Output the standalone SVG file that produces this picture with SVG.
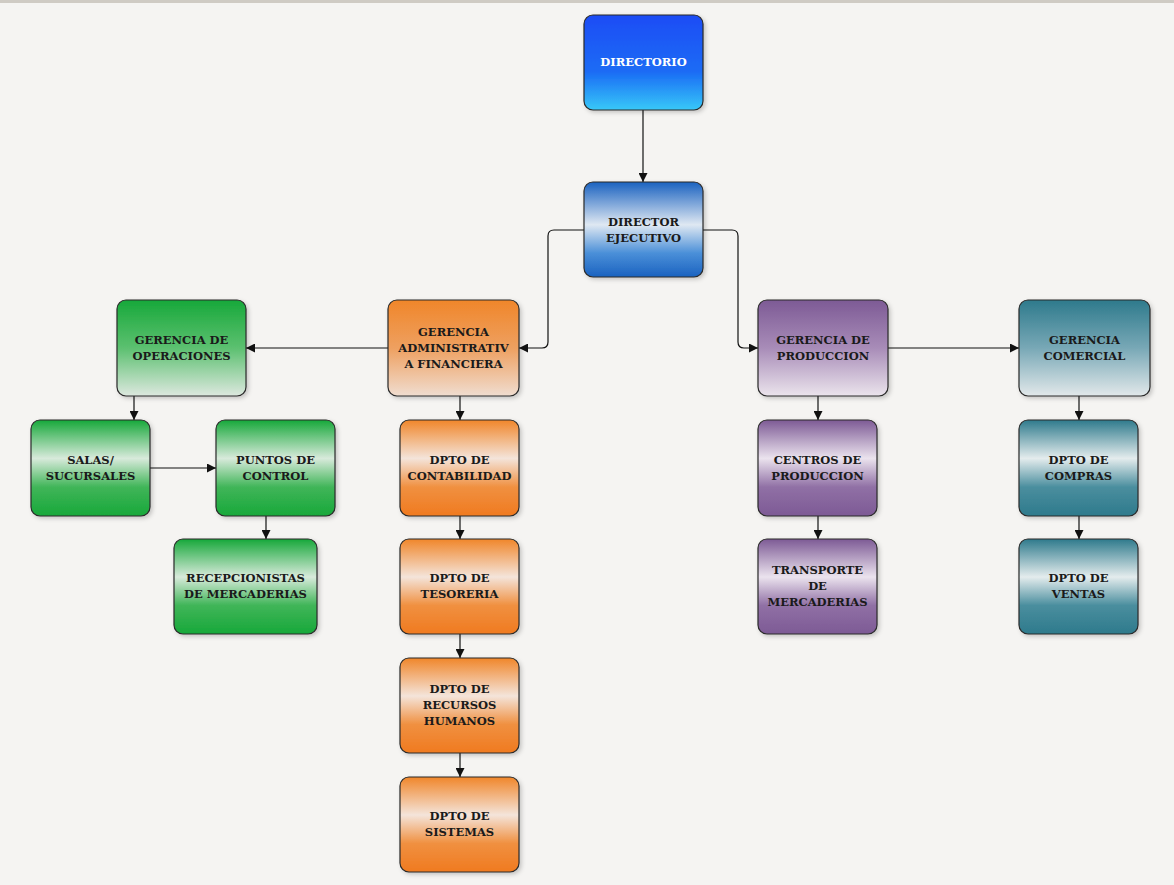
<svg xmlns="http://www.w3.org/2000/svg" width="1174" height="885" viewBox="0 0 1174 885">
<defs>
<linearGradient id="gBlue1" x1="0" y1="0" x2="0" y2="1"><stop offset="0" stop-color="#1a4cf5"/><stop offset="0.6" stop-color="#1a6cf5"/><stop offset="1" stop-color="#38c8f8"/></linearGradient>
<linearGradient id="gBlue2" x1="0" y1="0" x2="0" y2="1"><stop offset="0" stop-color="#1a62c0"/><stop offset="0.45" stop-color="#dfe8f2"/><stop offset="0.75" stop-color="#4a8fd8"/><stop offset="1" stop-color="#1a62c0"/></linearGradient>
<linearGradient id="gOrM" x1="0" y1="0" x2="0" y2="1"><stop offset="0" stop-color="#f0862a"/><stop offset="0.5" stop-color="#eea060"/><stop offset="1" stop-color="#f0ddd0"/></linearGradient>
<linearGradient id="gOrD" x1="0" y1="0" x2="0" y2="1"><stop offset="0" stop-color="#f0862a"/><stop offset="0.4" stop-color="#f4e4da"/><stop offset="0.7" stop-color="#f09040"/><stop offset="1" stop-color="#f07a20"/></linearGradient>
<linearGradient id="gGrM" x1="0" y1="0" x2="0" y2="1"><stop offset="0" stop-color="#17a83a"/><stop offset="0.5" stop-color="#5cc070"/><stop offset="1" stop-color="#dde8df"/></linearGradient>
<linearGradient id="gGrD" x1="0" y1="0" x2="0" y2="1"><stop offset="0" stop-color="#17a83a"/><stop offset="0.4" stop-color="#d8eadb"/><stop offset="0.7" stop-color="#40b558"/><stop offset="1" stop-color="#17a83a"/></linearGradient>
<linearGradient id="gPuM" x1="0" y1="0" x2="0" y2="1"><stop offset="0" stop-color="#7d5a95"/><stop offset="0.5" stop-color="#a88cb8"/><stop offset="1" stop-color="#ebe4ec"/></linearGradient>
<linearGradient id="gPuD" x1="0" y1="0" x2="0" y2="1"><stop offset="0" stop-color="#7d5a95"/><stop offset="0.4" stop-color="#ebe3ee"/><stop offset="0.7" stop-color="#9070a5"/><stop offset="1" stop-color="#7d5a95"/></linearGradient>
<linearGradient id="gTeM" x1="0" y1="0" x2="0" y2="1"><stop offset="0" stop-color="#2e7a8c"/><stop offset="0.5" stop-color="#78a8b6"/><stop offset="1" stop-color="#e2e8ea"/></linearGradient>
<linearGradient id="gTeD" x1="0" y1="0" x2="0" y2="1"><stop offset="0" stop-color="#2e7a8c"/><stop offset="0.4" stop-color="#e4eced"/><stop offset="0.7" stop-color="#4a8e9e"/><stop offset="1" stop-color="#2e7a8c"/></linearGradient>
<marker id="ah" viewBox="0 0 10 10" refX="10" refY="5" markerWidth="9" markerHeight="9" markerUnits="userSpaceOnUse" orient="auto"><path d="M0,0 L10,5 L0,10 z" fill="#111"/></marker>
<filter id="sh" x="-10%" y="-10%" width="130%" height="130%"><feDropShadow dx="2" dy="2" stdDeviation="2" flood-color="#000" flood-opacity="0.2"/></filter>
</defs>
<style>
rect.n{stroke:#2a2a2a;stroke-width:1.2;filter:url(#sh)}
text{font-family:"DejaVu Serif","Liberation Serif",serif;font-weight:bold;font-size:11.5px;fill:#1a1a1a;text-anchor:middle}
text.w{fill:#ffffff}
.c{fill:none;stroke:#111;stroke-width:1.2;marker-end:url(#ah)}
</style>
<rect width="1174" height="885" fill="#f5f4f2"/>
<rect width="1174" height="3" fill="#cfcbc4"/>
<g id="connectors">
<path class="c" d="M643,110 V182"/>
<path class="c" d="M584,230 H554 Q548,230 548,236 V342 Q548,348 542,348 H519"/>
<path class="c" d="M703,230 H732 Q738,230 738,236 V342 Q738,348 744,348 H758"/>
<path class="c" d="M388,348 H246"/>
<path class="c" d="M888,348 H1019"/>
<path class="c" d="M460,396 V420"/>
<path class="c" d="M460,516 V539"/>
<path class="c" d="M460,634 V658"/>
<path class="c" d="M460,753 V777"/>
<path class="c" d="M134,396 V420"/>
<path class="c" d="M150,468 H216"/>
<path class="c" d="M266,516 V539"/>
<path class="c" d="M818,396 V420"/>
<path class="c" d="M818,516 V539"/>
<path class="c" d="M1079,396 V420"/>
<path class="c" d="M1079,516 V539"/>
</g>
<g id="directorio"><rect class="n" x="584" y="15" width="119" height="95" rx="9" fill="url(#gBlue1)"/><text class="w" x="643.500" y="66">DIRECTORIO</text></g>
<g id="director-ejecutivo"><rect class="n" x="584" y="182" width="119" height="95" rx="9" fill="url(#gBlue2)"/><text x="643.500" y="226">DIRECTOR</text><text x="643.500" y="242">EJECUTIVO</text></g>
<g id="ger-admin"><rect class="n" x="388" y="300" width="131" height="96" rx="9" fill="url(#gOrM)"/><text x="453.500" y="336">GERENCIA</text><text x="453.500" y="352">ADMINISTRATIV</text><text x="453.500" y="368">A FINANCIERA</text></g>
<g id="ger-operaciones"><rect class="n" x="117" y="300" width="129" height="96" rx="9" fill="url(#gGrM)"/><text x="181.500" y="344">GERENCIA DE</text><text x="181.500" y="360">OPERACIONES</text></g>
<g id="salas"><rect class="n" x="31" y="420" width="119" height="96" rx="9" fill="url(#gGrD)"/><text x="90.500" y="464">SALAS/</text><text x="90.500" y="480">SUCURSALES</text></g>
<g id="puntos"><rect class="n" x="216" y="420" width="119" height="96" rx="9" fill="url(#gGrD)"/><text x="275.500" y="464">PUNTOS DE</text><text x="275.500" y="480">CONTROL</text></g>
<g id="recepcionistas"><rect class="n" x="174" y="539" width="143" height="95" rx="9" fill="url(#gGrD)"/><text x="245.500" y="582">RECEPCIONISTAS</text><text x="245.500" y="598">DE MERCADERIAS</text></g>
<g id="contabilidad"><rect class="n" x="400" y="420" width="119" height="96" rx="9" fill="url(#gOrD)"/><text x="459.500" y="464">DPTO DE</text><text x="459.500" y="480">CONTABILIDAD</text></g>
<g id="tesoreria"><rect class="n" x="400" y="539" width="119" height="95" rx="9" fill="url(#gOrD)"/><text x="459.500" y="582">DPTO DE</text><text x="459.500" y="598">TESORERIA</text></g>
<g id="rrhh"><rect class="n" x="400" y="658" width="119" height="95" rx="9" fill="url(#gOrD)"/><text x="459.500" y="693">DPTO DE</text><text x="459.500" y="709">RECURSOS</text><text x="459.500" y="725">HUMANOS</text></g>
<g id="sistemas"><rect class="n" x="400" y="777" width="119" height="95" rx="9" fill="url(#gOrD)"/><text x="459.500" y="820">DPTO DE</text><text x="459.500" y="836">SISTEMAS</text></g>
<g id="ger-produccion"><rect class="n" x="758" y="300" width="130" height="96" rx="9" fill="url(#gPuM)"/><text x="823" y="344">GERENCIA DE</text><text x="823" y="360">PRODUCCION</text></g>
<g id="centros"><rect class="n" x="758" y="420" width="119" height="96" rx="9" fill="url(#gPuD)"/><text x="817.500" y="464">CENTROS DE</text><text x="817.500" y="480">PRODUCCION</text></g>
<g id="transporte"><rect class="n" x="758" y="539" width="119" height="95" rx="9" fill="url(#gPuD)"/><text x="817.500" y="574">TRANSPORTE</text><text x="817.500" y="590">DE</text><text x="817.500" y="606">MERCADERIAS</text></g>
<g id="ger-comercial"><rect class="n" x="1019" y="300" width="131" height="96" rx="9" fill="url(#gTeM)"/><text x="1084.500" y="344">GERENCIA</text><text x="1084.500" y="360">COMERCIAL</text></g>
<g id="compras"><rect class="n" x="1019" y="420" width="119" height="96" rx="9" fill="url(#gTeD)"/><text x="1078.500" y="464">DPTO DE</text><text x="1078.500" y="480">COMPRAS</text></g>
<g id="ventas"><rect class="n" x="1019" y="539" width="119" height="95" rx="9" fill="url(#gTeD)"/><text x="1078.500" y="582">DPTO DE</text><text x="1078.500" y="598">VENTAS</text></g>
</svg>
